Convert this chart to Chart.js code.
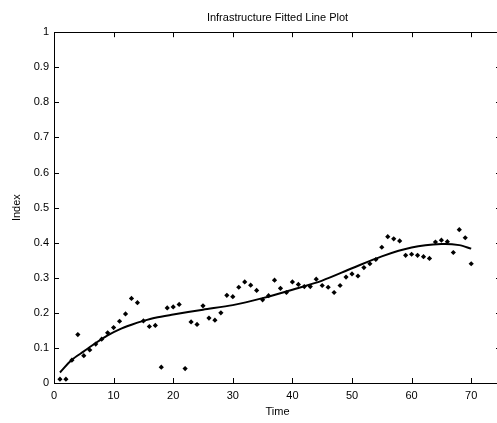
<!DOCTYPE html>
<html>
<head>
<meta charset="utf-8">
<script src="https://cdn.jsdelivr.net/npm/chart.js@4/dist/chart.umd.min.js"></script>
<style>
  html, body { margin: 0; padding: 0; background: #fff; overflow: hidden; }
</style>
</head>
<body>
<canvas id="fitPlot" width="505" height="423"></canvas>
<script>
/* Infrastructure fitted line plot: observed index points + fitted curve */

const timeValues = [
  1, 2, 3, 4, 5, 6, 7, 8, 9, 10, 11, 12, 13, 14, 15, 16, 17, 18, 19, 20,
  21, 22, 23, 24, 25, 26, 27, 28, 29, 30, 31, 32, 33, 34, 35, 36, 37, 38, 39, 40,
  41, 42, 43, 44, 45, 46, 47, 48, 49, 50, 51, 52, 53, 54, 55, 56, 57, 58, 59, 60,
  61, 62, 63, 64, 65, 66, 67, 68, 69, 70,
];
const indexValues = [
  0.011, 0.011, 0.065, 0.138, 0.078, 0.094, 0.111, 0.125, 0.143, 0.158,
  0.176, 0.197, 0.241, 0.229, 0.177, 0.161, 0.164, 0.045, 0.214, 0.217,
  0.224, 0.041, 0.174, 0.167, 0.220, 0.185, 0.179, 0.200, 0.250, 0.246,
  0.273, 0.288, 0.279, 0.264, 0.237, 0.249, 0.293, 0.270, 0.258, 0.288,
  0.281, 0.275, 0.275, 0.296, 0.278, 0.273, 0.258, 0.278, 0.302, 0.311,
  0.305, 0.329, 0.340, 0.352, 0.387, 0.417, 0.411, 0.405, 0.364, 0.367,
  0.364, 0.360, 0.355, 0.402, 0.407, 0.403, 0.372, 0.437, 0.414, 0.340,
];

// fitted curve
const fitTime = [1, 3, 5, 7, 9, 11, 13, 15, 17, 20, 25, 30, 35, 40, 45, 50, 55, 60, 65, 68, 70];
const fitIndex = [
  0.030, 0.066, 0.090, 0.114, 0.136, 0.153, 0.166, 0.177, 0.186, 0.195, 0.209,
  0.222, 0.242, 0.266, 0.292, 0.327, 0.361, 0.386, 0.396, 0.393, 0.383,
];

const xTicks = [0, 10, 20, 30, 40, 50, 60, 70];
const yTicks = [0, 0.1, 0.2, 0.3, 0.4, 0.5, 0.6, 0.7, 0.8, 0.9, 1];

const FONT = { family: "'Liberation Sans', Arial, sans-serif", size: 11 };

// MATLAB style box with ticks pointing inward on all four sides
const boxTicks = {
  id: "boxTicks",
  afterDraw(chart) {
    const { ctx, chartArea: a, scales: { x, y } } = chart;
    const len = 5;
    ctx.save();
    ctx.strokeStyle = "#000";
    ctx.lineWidth = 1;
    ctx.strokeRect(Math.round(a.left) + 0.5, Math.round(a.top) + 0.5,
      Math.round(a.right - a.left), Math.round(a.bottom - a.top));
    ctx.beginPath();
    x.ticks.forEach((t) => {
      const px = Math.round(x.getPixelForValue(t.value)) + 0.5;
      ctx.moveTo(px, a.bottom); ctx.lineTo(px, a.bottom - len);
      ctx.moveTo(px, a.top); ctx.lineTo(px, a.top + len);
    });
    y.ticks.forEach((t) => {
      const py = Math.round(y.getPixelForValue(t.value)) + 0.5;
      ctx.moveTo(a.left, py); ctx.lineTo(a.left + len, py);
      ctx.moveTo(a.right, py); ctx.lineTo(a.right - len, py);
    });
    ctx.stroke();
    ctx.restore();
  },
};

new Chart(document.getElementById("fitPlot"), {
  type: "scatter",
  data: {
    datasets: [
      {
        label: "Index",
        data: timeValues.map((t, i) => ({ x: t, y: indexValues[i] })),
        pointStyle: "rectRot",
        pointRadius: 2.6,
        backgroundColor: "#000",
        borderWidth: 0,
      },
      {
        type: "line",
        label: "Fit",
        data: fitTime.map((t, i) => ({ x: t, y: fitIndex[i] })),
        borderColor: "#000",
        borderWidth: 2,
        pointRadius: 0,
        fill: false,
        tension: 0.3,
      },
    ],
  },
  options: {
    responsive: false,
    animation: false,
    layout: { padding: { left: 0, right: 3, top: 0, bottom: 0 } },
    plugins: {
      legend: { display: false },
      tooltip: { enabled: false },
      title: {
        display: true,
        text: "Infrastructure Fitted Line Plot",
        color: "#000",
        font: { ...FONT, weight: "normal" },
        fullSize: false,
        padding: { top: 11, bottom: 8 },
      },
    },
    scales: {
      x: {
        type: "linear",
        min: 0,
        max: 75,
        afterBuildTicks: (s) => { s.ticks = xTicks.map((v) => ({ value: v })); },
        afterFit: (s) => { s.height = 40; },
        grid: { display: false, drawTicks: false },
        border: { display: false },
        ticks: { color: "#000", font: FONT, padding: 6, maxRotation: 0 },
        title: { display: true, text: "Time", color: "#000", font: FONT, padding: { top: 0, bottom: 4.6 } },
      },
      y: {
        min: 0,
        max: 1,
        afterBuildTicks: (s) => { s.ticks = yTicks.map((v) => ({ value: v })); },
        afterFit: (s) => { s.width = 54; },
        grid: { display: false, drawTicks: false },
        border: { display: false },
        ticks: { color: "#000", font: FONT, padding: 5, callback: (v) => String(v) },
        title: { display: true, text: "Index", color: "#000", font: FONT, padding: { top: 10.4, bottom: 0 } },
      },
    },
  },
  plugins: [boxTicks],
});
</script>
</body>
</html>
